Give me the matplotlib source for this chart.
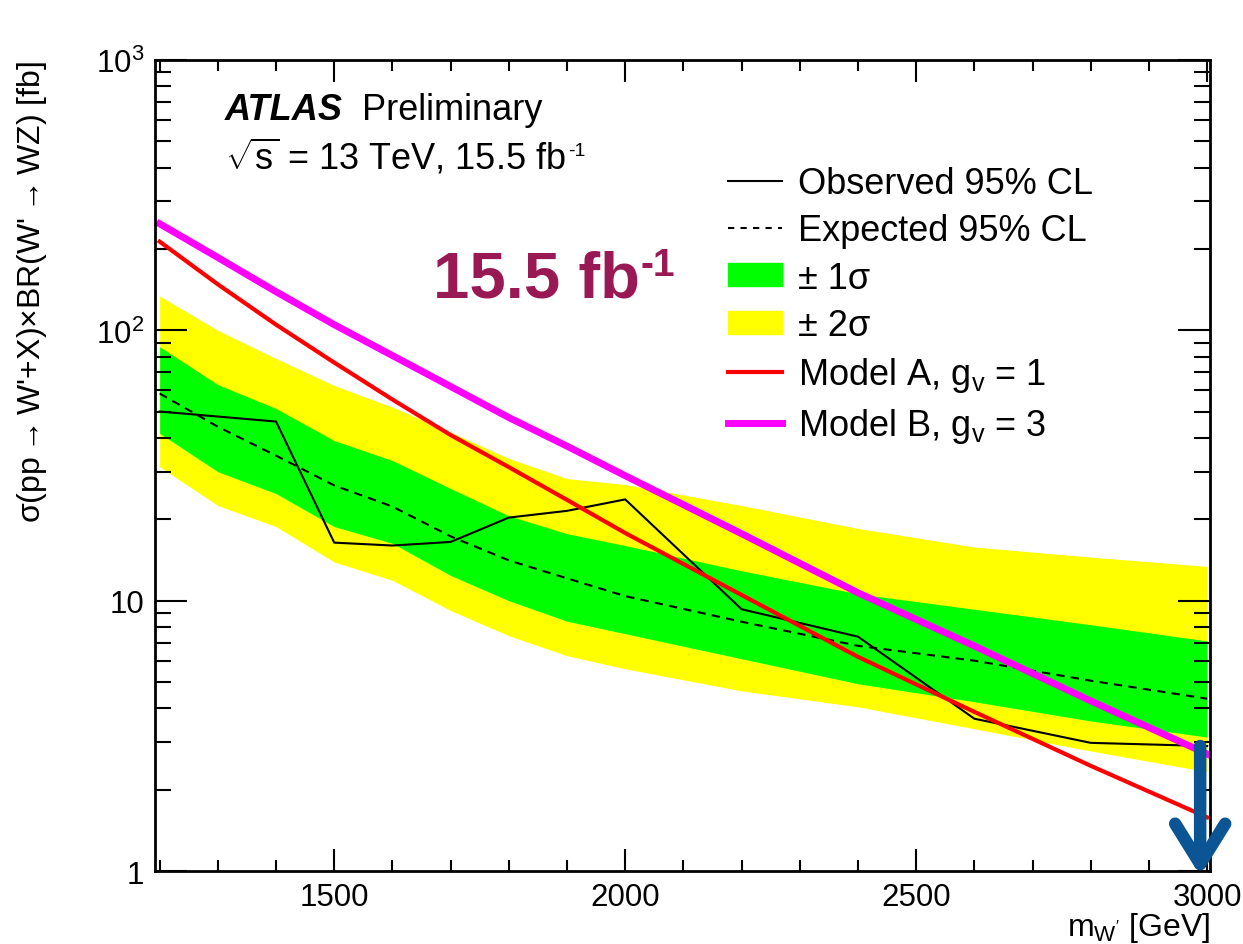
import matplotlib
matplotlib.use("Agg")
import matplotlib.pyplot as plt
from matplotlib.lines import Line2D
from matplotlib.patches import Patch
from matplotlib.ticker import MultipleLocator, FixedLocator, FuncFormatter, LogLocator

plt.rcParams['font.family'] = ['Liberation Sans', 'DejaVu Sans']
plt.rcParams['mathtext.fontset'] = 'custom'
plt.rcParams['mathtext.rm'] = 'Liberation Sans'
plt.rcParams['mathtext.it'] = 'Liberation Sans:italic'
plt.rcParams['mathtext.bf'] = 'Liberation Sans:bold'

# W' mass points [GeV]
mass = [1200, 1300, 1400, 1500, 1600, 1700, 1800, 1900, 2000, 2200, 2400, 2600, 2800, 3000]
# limits [fb]
observed = [50.1, 48.0, 46.0, 16.4, 16.0, 16.5, 20.3, 21.5, 23.7, 9.3, 7.36, 3.66, 2.98, 2.90]
expected = [58.4, 44.0, 34.4, 26.7, 22.3, 17.3, 14.1, 12.1, 10.4, 8.36, 6.81, 6.0, 5.06, 4.34]
sig1_up = [87, 63, 51.4, 39.1, 33, 26, 20.6, 17.7, 16, 12.9, 10.6, 9.3, 8.15, 7.1]
sig1_dn = [41.6, 30, 24.9, 18.8, 16.3, 12.4, 10, 8.4, 7.55, 6.1, 4.93, 4.23, 3.59, 3.13]
sig2_up = [134, 100, 78.7, 62.5, 52, 42, 33.6, 28.3, 26.9, 22.5, 18.5, 15.8, 14.5, 13.4]
sig2_dn = [31.3, 22.5, 18.8, 13.9, 11.9, 9.2, 7.42, 6.26, 5.6, 4.64, 4.05, 3.36, 2.78, 2.33]
# theory cross sections [fb]
model_a = [213, 148, 105, 76, 55.5, 41, 31.2, 23.6, 17.8, 10.5, 6.2, 3.88, 2.45, 1.58]
model_b = [248, 186, 139, 105, 80.7, 62, 47.6, 37.3, 29.0, 17.7, 10.7, 6.8, 4.26, 2.71]

W, H, DPI = 1243, 945, 100
fig = plt.figure(figsize=(W / DPI, H / DPI), dpi=DPI)
ax = fig.add_axes([0.1247, 0.0772, 0.8488, 0.8582])

ax.fill_between(mass, sig2_dn, sig2_up, color='#ffff00', lw=0)
ax.fill_between(mass, sig1_dn, sig1_up, color='#00ff00', lw=0)
ax.plot(mass, expected, color='black', lw=1.5, ls=(0, (4, 3)))
ax.plot(mass, observed, color='black', lw=1.5)
ax.plot(mass, model_a, color='#ff0000', lw=3)
ax.plot(mass, model_b, color='#ff00ff', lw=5)

ax.annotate('', xy=(2988, 0.96), xytext=(2988, 2.9),
            arrowprops=dict(arrowstyle='->,head_length=1.45,head_width=0.9',
                            color='#0b5595', lw=9, shrinkA=0, shrinkB=0,
                            mutation_scale=20),
            annotation_clip=False)

ax.set_yscale('log')
ax.set_xlim(1192, 3005)
ax.set_ylim(1, 1000)

ax.xaxis.set_major_locator(MultipleLocator(500))
ax.xaxis.set_minor_locator(MultipleLocator(100))
ax.yaxis.set_major_locator(FixedLocator([1, 10, 100, 1000]))
ax.yaxis.set_minor_locator(LogLocator(base=10, subs=range(2, 10)))
ylabels = {1: '1', 10: '10', 100: r'$\mathregular{10^{2}}$', 1000: r'$\mathregular{10^{3}}$'}
ax.yaxis.set_major_formatter(FuncFormatter(lambda v, p: ylabels.get(int(round(v)), '')))
ax.yaxis.set_minor_formatter(FuncFormatter(lambda v, p: ''))

ax.tick_params(which='both', direction='in', top=True, right=True, width=1.5, labelsize=22.5)
ax.tick_params(axis='x', which='major', length=16, pad=8)
ax.tick_params(axis='x', which='minor', length=8)
ax.tick_params(axis='y', which='major', length=23, pad=8)
ax.tick_params(axis='y', which='minor', length=11.5)
for s in ax.spines.values():
    s.set_linewidth(2)

ax.set_ylabel(r"σ(pp$\rightarrow$W'+X)×BR(W'$\rightarrow$WZ) [fb]", fontsize=23, loc='top')
ax.yaxis.set_label_coords(-0.1, 1.0)
ax.set_xlabel(r"m$_{\mathregular{W'}}$ [GeV]", fontsize=23, loc='right')
ax.xaxis.set_label_coords(1.0, -0.048)

renderer = fig.canvas.get_renderer()


def text_with_sup(x, y, base, sup, size, sup_size, raise_px, gap_px, **kw):
    # x, y in pixels from top-left; superscript drawn as a separate text
    t = fig.text(x / W, 1 - y / H, base, fontsize=size, va='baseline', **kw)
    bb = t.get_window_extent(renderer)
    fig.text((bb.x1 + gap_px) / W, 1 - (y - raise_px) / H, sup, fontsize=sup_size,
             va='baseline', **kw)


fig.text(225 / W, 1 - 120 / H, 'ATLAS', fontsize=26, fontweight='bold', fontstyle='italic', va='baseline')
fig.text(362 / W, 1 - 120 / H, 'Preliminary', fontsize=26, va='baseline')
text_with_sup(225, 170, r'$\sqrt{\mathregular{s}}$ = 13 TeV, 15.5 fb', '-1', 26, 14, 14, 2)
text_with_sup(433, 297, '15.5 fb', '-1', 47, 28, 21, 1, fontweight='bold', color='#991955')

handles = [Line2D([], [], color='black', lw=1.5),
           Line2D([], [], color='black', lw=1.5, ls=(0, (3, 3))),
           Patch(color='#00ff00'),
           Patch(color='#ffff00'),
           Line2D([], [], color='#ff0000', lw=3),
           Line2D([], [], color='#ff00ff', lw=5)]
labels = ['Observed 95% CL', 'Expected 95% CL', '± 1σ', '± 2σ',
          r'Model A, $\mathregular{g_{v}}$ = 1', r'Model B, $\mathregular{g_{v}}$ = 3']
ax.legend(handles, labels, loc='upper left', bbox_to_anchor=(728 / W, 1 - 167 / H),
          bbox_transform=fig.transFigure, frameon=False, fontsize=26, handlelength=1.5,
          handleheight=0.6, handletextpad=0.45, labelspacing=0.34, borderpad=0, borderaxespad=0)

fig.savefig('out.png', dpi=DPI)
